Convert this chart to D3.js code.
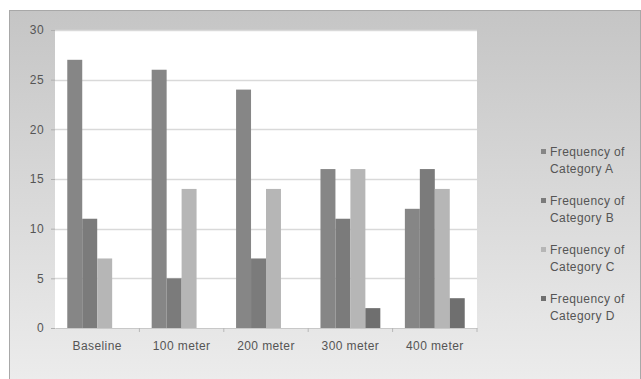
<!DOCTYPE html>
<html><head><meta charset="utf-8">
<script src="https://cdnjs.cloudflare.com/ajax/libs/d3/7.8.5/d3.min.js"></script>
<style>body{margin:0;background:#fff}svg{display:block}</style>
</head><body>
<script>
const categories = ["Baseline","100 meter","200 meter","300 meter","400 meter"];
const seriesNames = ["Frequency of Category A","Frequency of Category B","Frequency of Category C","Frequency of Category D"];
const catA = [27,26,24,16,12];
const catB = [11,5,7,11,16];
const catC = [7,14,14,16,14];
const catD = [0,0,0,2,3];
const yTicks = [0,5,10,15,20,25,30];
const colors = ["#868686","#7b7b7b","#b6b6b6","#6f6f6f"];

const W=641,H=379;
const FONT="Liberation Sans, Arial";
const svg=d3.select("body").append("svg").attr("width",W).attr("height",H);
const defs=svg.append("defs");
const g=defs.append("linearGradient").attr("id","bg").attr("x1",0).attr("y1",0).attr("x2",0).attr("y2",1);
g.append("stop").attr("offset","0%").attr("stop-color","#c5c5c5");
g.append("stop").attr("offset","100%").attr("stop-color","#ececec");
svg.append("rect").attr("x",9.5).attr("y",10.5).attr("width",631).attr("height",370)
  .attr("fill","url(#bg)").attr("stroke","#a8a8a8").attr("stroke-width",1);

const plot={l:55,r:477,t:30,b:328};
svg.append("rect").attr("x",plot.l).attr("y",plot.t).attr("width",plot.r-plot.l).attr("height",plot.b-plot.t).attr("fill","#fff");

const y=d3.scaleLinear().domain([0,30]).range([plot.b,plot.t]);
const x0=d3.scaleBand().domain(categories).range([plot.l,plot.r]).paddingInner(0).paddingOuter(0);
const x1=d3.scaleBand().domain(seriesNames).range([0,x0.bandwidth()]).paddingOuter(0.82).paddingInner(0);

// gridlines
svg.append("g").selectAll("line").data(yTicks.filter(d=>d>0)).join("line")
  .attr("x1",plot.l).attr("x2",plot.r).attr("y1",d=>Math.round(y(d))+0.5).attr("y2",d=>Math.round(y(d))+0.5)
  .attr("stroke","#d9d9d9").attr("stroke-width",1.5);

const yAxis=svg.append("g").attr("transform",`translate(${plot.l},0)`)
  .call(d3.axisLeft(y).tickValues(yTicks).tickSize(4).tickPadding(7));
yAxis.select(".domain").remove();
yAxis.selectAll("line").attr("stroke","#b0b0b0");
yAxis.selectAll("text").attr("font-family",FONT).attr("font-size",12).attr("letter-spacing",0.4).attr("fill","#555");

const series=[catA,catB,catC,catD];
series.forEach((vals,si)=>{
  svg.append("g").selectAll("rect").data(vals).join("rect")
    .attr("x",(d,i)=>x0(categories[i])+x1(seriesNames[si]))
    .attr("width",x1.bandwidth())
    .attr("y",d=>y(d)).attr("height",d=>plot.b-y(d))
    .attr("fill",colors[si]);
});

const xAxis=svg.append("g").attr("transform",`translate(0,${plot.b})`)
  .call(d3.axisBottom(x0).tickSize(0).tickPadding(13));
xAxis.select(".domain").attr("stroke","#c8c8c8");
xAxis.selectAll("text").attr("font-family",FONT).attr("font-size",12).attr("letter-spacing",0.4).attr("fill","#555");
svg.append("g").selectAll("line").data(categories).join("line")
  .attr("x1",d=>x0(d)+x0.bandwidth()).attr("x2",d=>x0(d)+x0.bandwidth())
  .attr("y1",plot.b).attr("y2",plot.b+4).attr("stroke","#b8b8b8");

const leg=svg.append("g");
seriesNames.forEach((s,i)=>{
  const yy=152+i*49;
  leg.append("rect").attr("x",541).attr("y",yy-3).attr("width",5).attr("height",5).attr("fill",colors[i]);
  const parts=[s.slice(0,12),s.slice(13)];
  parts.forEach((p,j)=>{
    leg.append("text").attr("x",550).attr("y",yy+4+j*16.5).text(p)
      .attr("font-family",FONT).attr("font-size",12).attr("letter-spacing",0.4).attr("fill","#555");
  });
});
</script>
</body></html>
